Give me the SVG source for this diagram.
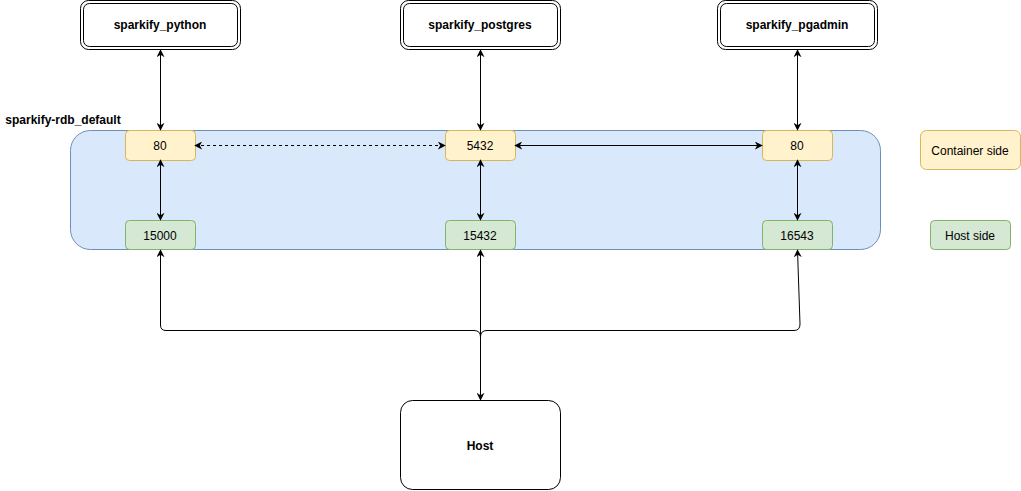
<svg xmlns="http://www.w3.org/2000/svg" width="1021" height="491" viewBox="0 0 1021 491">
<style>
text{font-family:"Liberation Sans",Arial,sans-serif;font-size:12px;fill:#000;text-anchor:middle;dominant-baseline:central}
.b{font-weight:bold}
.svc{fill:#fff;stroke:#000;stroke-width:1}
.yel{fill:#fff2cc;stroke:#d6b656}
.grn{fill:#d5e8d4;stroke:#82b366}
.c{fill:none;stroke:#000;stroke-width:1}
</style>
<defs>
<marker id="ah" viewBox="0 0 10 10" refX="9" refY="5" markerWidth="8" markerHeight="8" orient="auto-start-reverse" markerUnits="userSpaceOnUse">
<path d="M0,0 L10,5 L0,10 L3,5 Z" fill="#000"/>
</marker>
</defs>
<rect width="1021" height="491" fill="#fff"/>
<g id="network">
<rect x="70.5" y="130.5" width="810" height="119" rx="20" fill="#dae8fc" stroke="#6c8ebf"/>
<text x="63" y="120" class="b">sparkify-rdb_default</text>
</g>
<g id="sparkify_python">
<rect class="svc" x="80.5" y="0.5" width="160" height="49" rx="8"/>
<rect class="svc" x="83.5" y="3.5" width="154" height="43" rx="6"/>
<text x="160" y="25" class="b">sparkify_python</text>
</g>
<g id="sparkify_postgres">
<rect class="svc" x="400.5" y="0.5" width="160" height="49" rx="8"/>
<rect class="svc" x="403.5" y="3.5" width="154" height="43" rx="6"/>
<text x="480" y="25" class="b">sparkify_postgres</text>
</g>
<g id="sparkify_pgadmin">
<rect class="svc" x="717.5" y="0.5" width="160" height="49" rx="8"/>
<rect class="svc" x="720.5" y="3.5" width="154" height="43" rx="6"/>
<text x="797" y="25" class="b">sparkify_pgadmin</text>
</g>
<g id="port_80_python"><rect class="yel" x="125.5" y="130.5" width="70" height="30" rx="4"/><text x="160" y="146">80</text></g>
<g id="port_5432"><rect class="yel" x="445.5" y="130.5" width="70" height="30" rx="4"/><text x="480" y="146">5432</text></g>
<g id="port_80_pgadmin"><rect class="yel" x="762.5" y="130.5" width="70" height="30" rx="4"/><text x="797" y="146">80</text></g>
<g id="port_15000"><rect class="grn" x="125.5" y="220.5" width="70" height="29" rx="4"/><text x="160" y="236">15000</text></g>
<g id="port_15432"><rect class="grn" x="445.5" y="220.5" width="70" height="29" rx="4"/><text x="480" y="236">15432</text></g>
<g id="port_16543"><rect class="grn" x="762.5" y="220.5" width="70" height="29" rx="4"/><text x="797" y="236">16543</text></g>
<g id="legend_container"><rect class="yel" x="920.5" y="130.5" width="100" height="39" rx="6"/><text x="970" y="151">Container side</text></g>
<g id="legend_host"><rect class="grn" x="930.5" y="220.5" width="80" height="29" rx="4"/><text x="970" y="236">Host side</text></g>
<g id="host"><rect class="svc" x="400.5" y="400.5" width="160" height="89" rx="12"/><text x="480" y="446" class="b">Host</text></g>
<g id="connectors">
<line class="c" x1="160.5" y1="50" x2="160.5" y2="130" marker-start="url(#ah)" marker-end="url(#ah)"/>
<line class="c" x1="480.5" y1="50" x2="480.5" y2="130" marker-start="url(#ah)" marker-end="url(#ah)"/>
<line class="c" x1="797.5" y1="50" x2="797.5" y2="130" marker-start="url(#ah)" marker-end="url(#ah)"/>
<line class="c" x1="160.5" y1="160" x2="160.5" y2="220" marker-start="url(#ah)" marker-end="url(#ah)"/>
<line class="c" x1="480.5" y1="160" x2="480.5" y2="220" stroke-width="1.5" marker-start="url(#ah)" marker-end="url(#ah)"/>
<line class="c" x1="797.5" y1="160" x2="797.5" y2="220" stroke-width="1.5" marker-start="url(#ah)" marker-end="url(#ah)"/>
<line class="c" x1="195" y1="145.5" x2="445" y2="145.5" stroke-dasharray="3 3" marker-start="url(#ah)" marker-end="url(#ah)"/>
<line class="c" x1="515" y1="145.5" x2="762" y2="145.5" marker-start="url(#ah)" marker-end="url(#ah)"/>
<path class="c" d="M480.5,400 L480.5,337 Q480.5,330.5 474,330.5 L166,330.5 Q160.5,330.5 160.5,325 L160.5,250" marker-end="url(#ah)"/>
<path class="c" d="M480.5,400 L480.5,250" marker-start="url(#ah)" marker-end="url(#ah)"/>
<path class="c" d="M480.5,337 Q480.5,330.5 487,330.5 L794,330.5 Q800,330.5 800,324 L797.5,250" marker-end="url(#ah)"/>
</g>
</svg>
